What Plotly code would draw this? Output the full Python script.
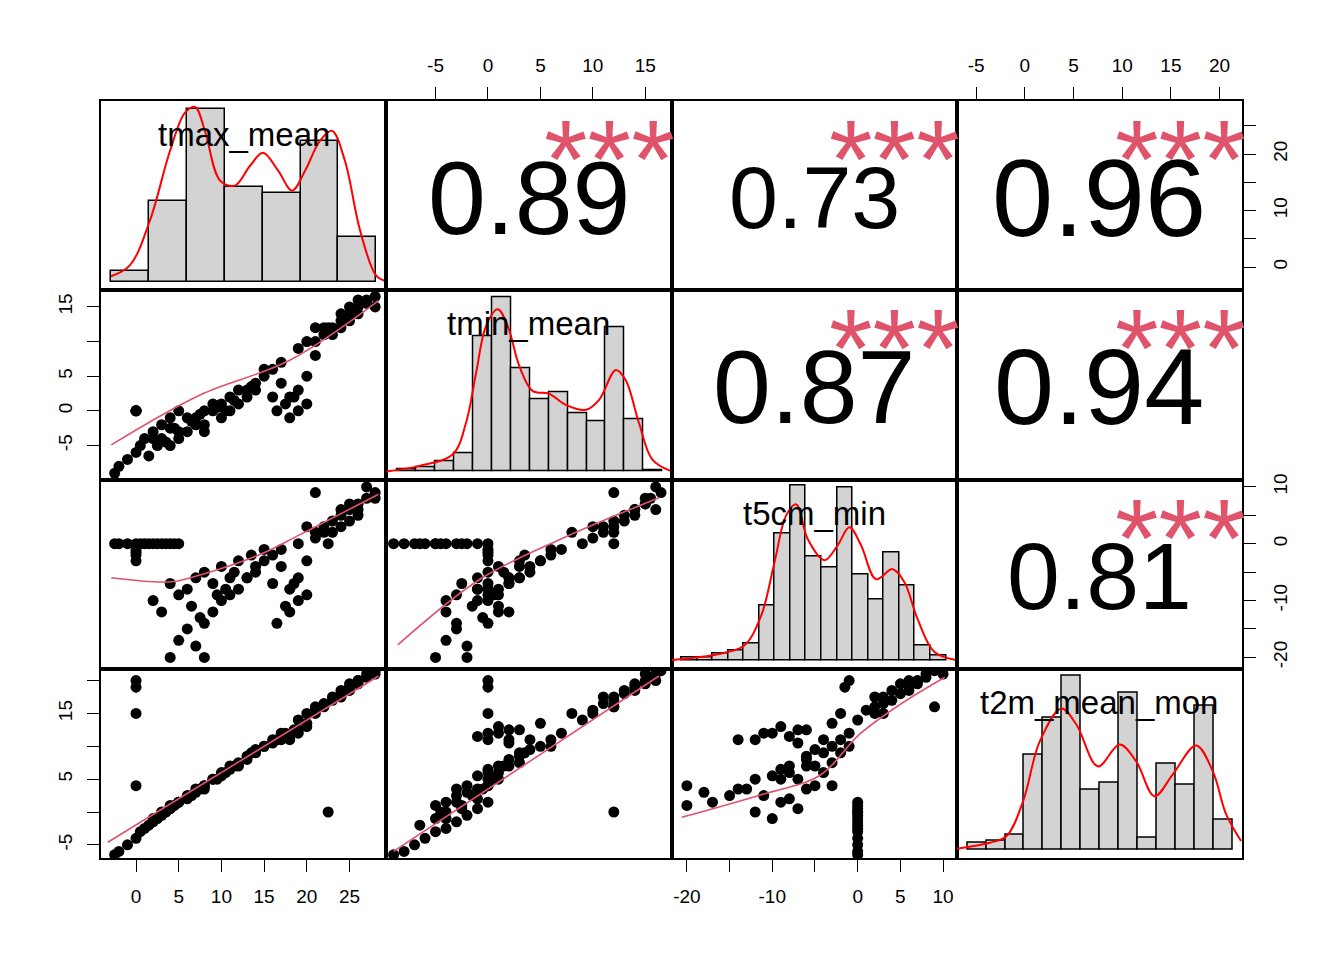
import plotly.graph_objects as go
from plotly.subplots import make_subplots

names = ["tmax_mean", "tmin_mean", "t5cm_min", "t2m_mean_mon"]

tmax = [-2.5,-2,-1,0,0.5,1,2,3,4,5,1.5,3.5,4.5,2.5,
        0,0,0,0,22.5,
        3,4,5,6,7,8,6,7,8,9,10,10,11,12,9,5,4,8,12,13,14,11,
        15,16,14,17,18,19,18,19,20,17,16,20,21,15,13,19,
        21,22,23,24,25,26,27,28,22,24,26,27,25,23,20,28,21,24,26,25,
        6.5,9.5,11.5,13.5,17.5,18.5,16.5,2,7.5,10.5]
tmin = [-9,-8,-7,-6,-5,-4,-3,-2,-1,0,-6.5,-4.5,-2.5,-5,
        0,0,0,0,12,
        -4,-5,-4,-3,-2,-2,-1,-1,0,0,1,-1,2,3,1,-3,-2.5,-3,1,2,3,0,
        5,6,4,7,2,0,-1,3,1,4,2,5,8,6,3,9,
        10,11,12,13,14,15,15.5,16.5,12,14,14,16,13,11,10,15,12,12,16,15,
        -1.5,0.5,1.5,3.5,1,2,0,-4,-0.5,0]
t5cm = [0,0,0,0,0,0,0,0,0,0,0,0,0,0,
        -1,-1.5,-2,-3,0,
        -12,-20,-17,-15,-18,-20,-8,-6,-5,-7,-4,-10,-6,-3,-12,-9,-7,-14,-8,-6,-4,-9,
        -3,-2,-5,-1,-12,-10,-8,-6,-9,-4,-7,-3,2,-1,-6,0,
        1,3,4,5,6,7,8,9,2,6,5,10,4,2,3,8,9,3,6,7,
        -11,-9,-5,-2,-11,-7,-14,-10,-13,-8]
t2m = [-6.5,-6,-5,-4,-3,-2.5,-1.5,-0.5,0.5,1.5,-2,0,1,-1,
       20,19,15,4,0,
       0,1,1.5,2.5,3,4,2,3.5,4,5,6,5.5,7,7.5,5,1.5,0.5,3.5,7,8,9,6.5,
       10,11,9.5,12,11,12,11.5,12.5,13,11,10.5,13.5,15,10,8.5,14,
       15.5,16.5,17,18,19,20,20.5,21.5,16,18.5,19.5,21,18.5,17.5,15,21,16,17.5,20,19.5,
       2.5,5,7,9,12,12.5,11,-1,3.5,6]
data = [tmax, tmin, t5cm, t2m]

corr_labels = {(0, 1): "0.89", (0, 2): "0.73", (0, 3): "0.96",
               (1, 2): "0.87", (1, 3): "0.94", (2, 3): "0.81"}
corr_sizes = {(0, 1): 104, (0, 2): 88, (0, 3): 110, (1, 2): 104, (1, 3): 108, (2, 3): 95}

smooth = {
    (1, 0): ([-2.9, 7.5, 18, 28.4], [-4.9, 2.3, 7.3, 15.9]),
    (2, 0): ([-2.9, 4.1, 7.5, 14.5, 19.2, 28.4], [-6, -6.7, -5.5, -1.9, 1.6, 8.7]),
    (2, 1): ([-8.6, -0.8, 6.8, 16.3], [-17.8, -6.3, 0.7, 8.1]),
    (3, 0): ([-3.3, 28.4], [-4.6, 20.7]),
    (3, 1): ([-9, 16.3], [-6, 20.7]),
    (3, 2): ([-20.6, -11.4, -4.4, 0.2, 4.9, 10.2], [-0.8, 2.6, 5.6, 11.8, 16.3, 20.5]),
}

hist_counts = [
    [11, 82, 174, 96, 90, 142, 45],
    [2, 4, 10, 18, 136, 175, 104, 73, 80, 59, 50, 145, 52, 1],
    [3, 3, 7, 10, 17, 56, 128, 176, 105, 94, 174, 87, 62, 109, 76, 15, 5],
    [7, 9, 15, 96, 133, 175, 61, 68, 158, 12, 87, 66, 145, 30],
]
hist_xrange = [[-0.26, 7.26], [-0.58, 14.47], [-0.64, 17.69], [-0.56, 14.49]]
dens_x = [
    [0, 0.5, 1.03, 1.56, 1.95, 2.22, 2.48, 2.88, 3.27, 3.67, 4.01, 4.41, 4.78, 5.12, 5.51, 5.83, 6.17, 6.57, 6.99, 7.26],
    [-0.58, 1.17, 2.93, 3.63, 4.16, 4.68, 5.30, 5.83, 6.44, 7.14, 8.02, 8.89, 9.95, 10.65, 11.53, 12.05, 12.75, 13.46, 14.42],
    [-0.64, 2.56, 4.06, 5.13, 5.98, 6.73, 7.37, 8.12, 9.19, 10.04, 10.79, 11.54, 12.5, 13.57, 14.32, 15.17, 16.24, 17.63],
    [-0.56, 1.19, 2.07, 2.94, 3.82, 4.96, 5.75, 6.89, 8.03, 8.91, 9.87, 10.84, 12.07, 12.95, 13.65, 14.44],
]
dens_y = [
    [6, 17, 62, 132, 170, 176, 152, 102, 97, 117, 130, 112, 92, 112, 142, 152, 122, 52, 7, 1],
    [0, 5.7, 17.3, 49, 99, 146, 163, 146, 106, 81, 78, 67, 62, 72, 102, 92, 49, 12, 0.7],
    [0.7, 7.3, 15.7, 45.7, 99, 146, 157, 122, 101, 116, 134, 116, 82, 92, 79, 42, 9, 0.7],
    [1.3, 7.3, 14, 49, 109, 142, 126, 84, 106, 89, 54, 76, 105, 79, 36, 9],
]

xr = [[-4.1, 29.3], [-9.7, 17.5], [-21.8, 11.6], [-7.0, 22.3]]
yr = [[-4.1, 29.4], [-9.9, 17.4], [-22.0, 11.3], [-7.0, 21.8]]
xticks = [[0, 5, 10, 15, 20, 25], [-5, 0, 5, 10, 15], [-20, -15, -10, -5, 0, 5, 10], [-5, 0, 5, 10, 15, 20]]
xlabels = [["0", "5", "10", "15", "20", "25"], ["-5", "0", "5", "10", "15"],
           ["-20", "", "-10", "", "0", "5", "10"], ["-5", "0", "5", "10", "15", "20"]]
yticks = [[0, 5, 10, 15, 20, 25], [-5, 0, 5, 10, 15], [-20, -15, -10, -5, 0, 5, 10], [-5, 0, 5, 10, 15, 20]]
ylabels = [["0", "", "10", "", "20", ""], ["-5", "0", "5", "", "15"],
           ["-20", "", "-10", "", "0", "", "10"], ["-5", "", "5", "", "15", ""]]

RED = "#DF536B"
FONT = "Liberation Sans"

fig = make_subplots(rows=4, cols=4, horizontal_spacing=0, vertical_spacing=0)

for i in range(4):
    for j in range(4):
        r, c = i + 1, j + 1
        if i > j:
            fig.add_trace(go.Scatter(x=data[j], y=data[i], mode="markers",
                                     marker=dict(color="black", size=11),
                                     showlegend=False), row=r, col=c)
            sx, sy = smooth[(i, j)]
            fig.add_trace(go.Scatter(x=sx, y=sy, mode="lines", line=dict(color=RED, width=1.6, shape="spline"),
                                     showlegend=False), row=r, col=c)
        elif i == j:
            counts = hist_counts[i]
            fig.add_trace(go.Bar(x=[k + 0.5 for k in range(len(counts))], y=counts, width=1,
                                 marker=dict(color="#D3D3D3", line=dict(color="black", width=1.5)),
                                 showlegend=False), row=r, col=c)
            fig.add_trace(go.Scatter(x=dens_x[i], y=dens_y[i], mode="lines",
                                     line=dict(color="red", width=2, shape="spline"),
                                     showlegend=False), row=r, col=c)
        else:
            fig.add_trace(go.Scatter(x=[xr[j][0]], y=[yr[i][0]], mode="markers",
                                     marker=dict(opacity=0), showlegend=False, hoverinfo="skip"),
                          row=r, col=c)

axcommon = dict(showgrid=False, zeroline=False, showline=True, linecolor="black", linewidth=1.5,
                mirror=True, ticks="", showticklabels=False, fixedrange=True, automargin=False)
tickstyle = dict(ticks="outside", ticklen=12, tickwidth=1.3, tickcolor="black", showticklabels=True,
                 ticklabelstandoff=8,
                 tickfont=dict(family=FONT, size=19, color="black"))

for i in range(4):
    for j in range(4):
        r, c = i + 1, j + 1
        xa = dict(axcommon)
        ya = dict(axcommon)
        if i == j:
            xa["range"] = hist_xrange[i]
            ya["range"] = [-8, 182]
        else:
            xa["range"] = xr[j]
            ya["range"] = yr[i]
            if i == 0 and j in (1, 3):
                xa.update(tickstyle, side="top", tickvals=xticks[j], ticktext=xlabels[j])
            if i == 3 and j in (0, 2):
                xa.update(tickstyle, side="bottom", tickvals=xticks[j], ticktext=xlabels[j])
            if j == 0 and i in (1, 3):
                ya.update(tickstyle, side="left", tickvals=yticks[i], ticktext=ylabels[i], tickangle=-90)
            if j == 3 and i in (0, 2):
                ya.update(tickstyle, side="right", tickvals=yticks[i], ticktext=ylabels[i], tickangle=-90)
        fig.update_xaxes(xa, row=r, col=c)
        fig.update_yaxes(ya, row=r, col=c)

annotations = []
for i in range(4):
    for j in range(4):
        n = i * 4 + j + 1
        suffix = "" if n == 1 else str(n)
        xd, yd = f"x{suffix} domain", f"y{suffix} domain"
        if i == j:
            annotations.append(dict(text=names[i], xref=xd, yref=yd, x=0.5, y=0.93, showarrow=False,
                                    font=dict(family=FONT, size=33, color="black")))
        elif i < j:
            annotations.append(dict(text=corr_labels[(i, j)], xref=xd, yref=yd, x=0.5, y=0.49,
                                    showarrow=False, font=dict(family=FONT, size=corr_sizes[(i, j)], color="black")))
            annotations.append(dict(text="***", xref=xd, yref=yd, x=1.02, y=0.69, xanchor="right",
                                    yanchor="middle",
                                    showarrow=False, font=dict(family=FONT, size=112, color=RED)))
fig.update_layout(annotations=annotations, width=1344, height=960,
                  margin=dict(l=93, r=110, t=93, b=110),
                  plot_bgcolor="white", paper_bgcolor="white", bargap=0)

fig.write_html("out.html")
